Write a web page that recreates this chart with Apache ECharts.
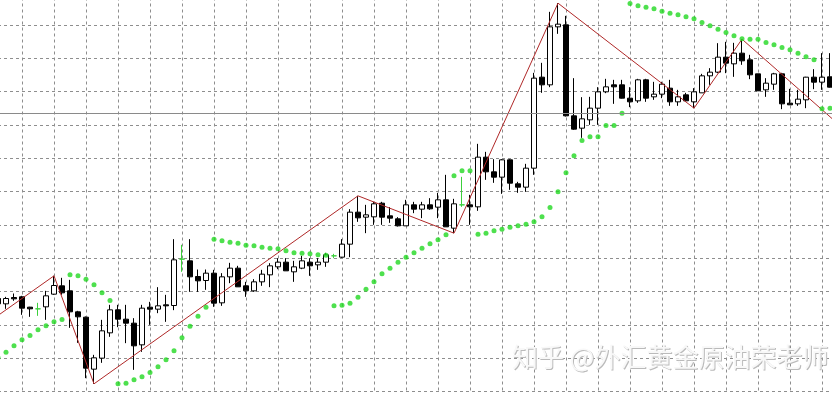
<!DOCTYPE html>
<html><head><meta charset="utf-8">
<script src="https://cdn.jsdelivr.net/npm/echarts/dist/echarts.min.js"></script>
<style>html,body{margin:0;padding:0;background:#fff}#c{width:832px;height:393px}</style>
</head><body><div id="c"></div><script>
// OHLC per bar (price units; one grid cell = 10)
const opens  = [27.9,26.3,28.2,28.4,25.3,24.8,25.4,29.2,31.7,30.2,23.9,22.3,6.7,10.0,17.6,24.5,21.7,20.5,14.0,25.3,24.7,26.0,25.8,39.7,39.2,34.5,33.3,35.5,26.6,34.4,37.0,31.7,30.2,32.9,35.0,37.4,38.8,35.9,37.0,38.8,38.0,38.8,40.7,40.3,44.2,53.8,52.3,52.4,56.5,52.7,51.8,49.7,56.0,54.7,56.0,55.3,57.5,49.0,56.0,56.0,55.4,70.3,65.9,64.3,69.5,62.3,61.3,67.0,94.3,92.0,109.4,110.0,82.7,79.0,81.5,85.0,89.9,92.0,92.0,88.0,87.2,93.5,88.4,89.2,91.0,86.9,89.0,86.9,89.6,94.7,95.8,100.3,98.3,101.5,99.5,95.3,90.5,92.2,95.3,86.5,86.3,87.5,94.3,92.8,94.4];
const closes = [26.3,27.9,27.8,25.0,24.8,24.8,28.7,31.8,29.6,23.9,22.4,7.0,10.1,18.2,24.5,21.7,20.5,13.7,25.0,24.7,25.7,25.7,39.5,39.7,34.4,33.2,35.5,26.5,34.4,37.0,31.4,30.2,32.9,35.2,37.7,38.8,36.2,37.4,39.2,37.7,38.8,41.0,40.7,44.2,53.8,52.1,53.0,56.3,52.3,52.0,49.7,56.0,54.7,56.0,54.8,57.5,49.4,56.3,56.0,55.4,70.3,65.9,64.3,69.5,62.5,61.3,67.0,94.0,92.0,109.4,110.2,82.7,78.7,81.8,85.0,89.9,91.4,91.4,88.0,86.9,93.5,88.0,89.2,92.2,86.9,88.4,87.2,89.9,94.7,95.8,100.3,98.5,101.5,99.2,95.0,90.2,92.5,95.3,86.3,86.0,87.7,94.3,92.8,94.3,91.3];
const lows   = [25.7,24.8,27.2,23.0,22.4,22.7,21.5,29.0,29.0,19.1,14.6,4.0,2.3,8.6,16.4,19.3,14.5,6.5,11.9,20.0,23.5,20.9,24.4,35.9,29.9,29.9,30.5,25.4,25.7,32.5,31.4,28.4,29.9,31.7,31.3,36.7,36.2,32.9,36.7,34.7,36.5,37.4,40.0,40.1,40.3,50.9,47.5,50.0,50.0,50.6,49.5,49.7,53.5,52.0,54.5,52.0,49.4,47.5,55.4,50.0,54.2,63.5,62.6,59.3,60.5,59.6,59.9,65.0,89.6,91.3,107.3,82.5,78.5,76.1,80.0,80.0,89.5,86.3,87.9,85.3,86.6,86.9,87.5,88.0,85.7,85.7,87.0,85.0,89.6,92.0,95.5,95.5,94.4,98.0,93.7,90.2,88.4,90.5,84.7,86.0,85.7,85.0,90.7,90.5,91.2];
const highs  = [28.4,28.4,29.4,28.7,25.4,26.6,30.2,34.7,34.1,33.5,24.2,22.5,11.0,21.5,26.0,26.0,26.0,22.0,26.0,26.9,31.3,29.0,45.7,44.0,45.7,36.6,36.6,36.5,35.5,38.6,37.7,32.9,33.7,36.5,38.5,40.0,40.0,39.2,40.7,40.0,40.0,41.6,41.3,45.7,54.7,58.7,56.0,56.9,56.9,55.3,52.3,57.5,56.9,56.9,58.0,59.6,65.0,57.8,64.4,59.0,74.3,71.9,69.7,69.7,69.7,62.9,68.3,95.6,98.6,113.9,116.5,112.7,94.0,88.3,88.4,91.3,93.8,93.5,93.5,91.3,93.8,93.8,92.9,92.9,93.5,90.5,89.6,91.0,95.3,97.0,104.5,104.9,104.6,105.7,101.0,95.3,94.0,95.6,95.6,90.8,90.5,94.4,96.7,101.5,101.5];
// Parabolic SAR dots
const sar = [10.1,11.8,13.7,15.5,16.8,18.5,19.7,20.9,21.6,35.0,34.7,33.7,32.0,29.6,27.3,2.3,2.5,3.5,4.4,5.7,7.4,9.5,12.2,16.1,19.6,22.6,25.3,45.7,45.2,44.8,44.5,43.9,43.7,43.3,43.0,42.8,42.2,41.6,41.5,41.3,41.0,40.9,25.7,25.9,26.5,28.3,30.7,32.9,35.3,37.0,38.8,40.3,41.6,43.0,44.3,45.5,47.0,64.7,66.2,66.2,47.2,47.5,48.2,48.7,49.3,49.7,50.2,50.9,52.4,55.2,59.9,65.6,70.7,75.3,76.4,76.4,79.8,79.8,83.5,116.4,115.7,115.3,114.8,114.1,113.5,113.0,112.4,111.8,110.7,109.7,108.7,107.7,106.7,105.8,105.7,105.7,104.7,104.0,103.2,102.5,101.5,100.4,99.5,84.8,85.0,null];
// ZigZag vertices (bar index, price)
const zzIdx = [0,7,12,45,57,70,87,93,105];
const zzVal = [22.8,34.7,2.3,58.7,47.5,116.5,85.0,105.7,80.3];
const hLine = 83.6;
const watermark = '知乎 @外汇黄金原油荣老师';

const N = opens.length + 1;
const categories = [];
for (let i = 0; i < N; i++) categories.push(String(i));
const DOJI = '#3ccf3c';
const candleData = opens.map((o, i) => {
  const it = { value: [o, closes[i], lows[i], highs[i]] };
  if (o === closes[i]) it.itemStyle = { color: DOJI, color0: DOJI, borderColor: DOJI, borderColor0: DOJI };
  return it;
});
const zz = new Array(N).fill(null);
zzIdx.forEach((k, j) => { zz[k] = zzVal[j]; });

const gridLine = { show: true, lineStyle: { color: '#8e8e8e', type: [3, 3], width: 1 } };
const chart = echarts.init(document.getElementById('c'));
chart.setOption({
  animation: false,
  backgroundColor: '#fff',
  grid: { left: -2, top: -8.5, width: 840, height: 400, outerBoundsMode: 'none', containLabel: false },
  xAxis: {
    type: 'category', data: categories, boundaryGap: false,
    axisLine: { show: false }, axisTick: { show: false }, axisLabel: { show: false },
    splitLine: Object.assign({}, gridLine, { interval: (idx) => idx % 4 === 3 })
  },
  yAxis: {
    type: 'value', min: 0, max: 120, interval: 10,
    axisLine: { show: false }, axisTick: { show: false }, axisLabel: { show: false },
    splitLine: gridLine
  },
  series: [
    {
      type: 'candlestick', data: candleData, barWidth: 5, clip: false,
      itemStyle: { color: '#fff', color0: '#000', borderColor: '#000', borderColor0: '#000', borderWidth: 1 },
      markLine: {
        silent: true, symbol: 'none', label: { show: false },
        lineStyle: { color: '#8a8a8a', type: 'solid', width: 1 },
        data: [{ yAxis: hLine }]
      }
    },
    {
      type: 'line', data: zz, connectNulls: true, symbol: 'none', clip: false,
      lineStyle: { color: '#b02828', width: 1 }, z: 3
    },
    {
      type: 'scatter', data: sar, symbol: 'circle', symbolSize: 5, clip: false,
      itemStyle: { color: '#22d822' }, z: 4
    }
  ],
  graphic: [
    {
      type: 'text', left: 513, top: 345, z: 99,
      style: { text: watermark, font: '26px "Noto Sans CJK SC"', fill: '#bababa' }
    },
    {
      type: 'text', left: 512, top: 344, z: 100,
      style: { text: watermark, font: '26px "Noto Sans CJK SC"', fill: '#f8f8f8' }
    }
  ]
});
</script></body></html>
